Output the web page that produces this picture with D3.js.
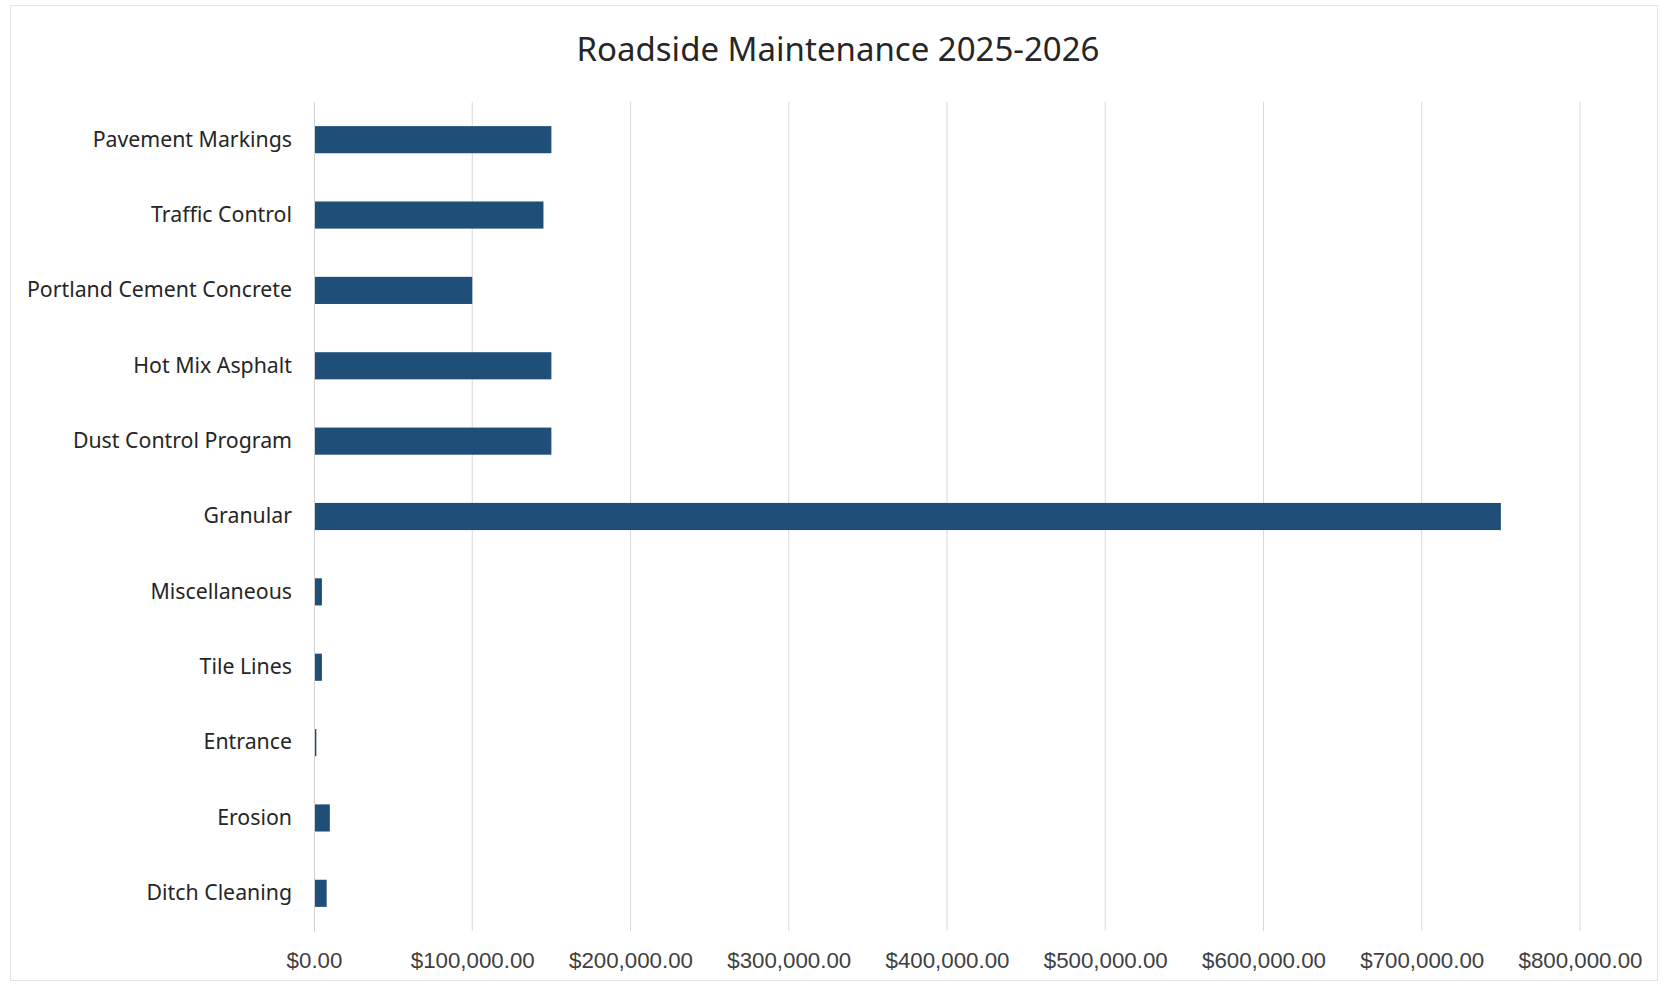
<!DOCTYPE html>
<html><head><meta charset="utf-8">
<script src="https://cdn.jsdelivr.net/npm/d3@7"></script>
<style>body{margin:0;background:#fff}svg{display:block}</style>
</head><body>
<svg id="chart" width="1669" height="987"></svg>
<script>
const title = "Roadside Maintenance 2025-2026";
const categories = ["Pavement Markings","Traffic Control","Portland Cement Concrete","Hot Mix Asphalt","Dust Control Program","Granular","Miscellaneous","Tile Lines","Entrance","Erosion","Ditch Cleaning"];
const values = [150000,145000,100000,150000,150000,750000,5000,5000,1500,10000,8000];
const tickValues = [0,100000,200000,300000,400000,500000,600000,700000,800000];

(function(){
const svg = d3.select("#chart");
const W = 1669, H = 987;
const pLeft = 314, pRight = 1580, pTop = 102, pBottom = 931;

svg.append("rect").attr("x",10.5).attr("y",5.5).attr("width",W-22).attr("height",H-12)
  .attr("fill","#fff").attr("stroke","#e4e4e4");

const x = d3.scaleLinear().domain([0,800000]).range([pLeft,pRight]);
const y = d3.scaleBand().domain(categories).range([pTop,pBottom]).paddingInner(0.64).paddingOuter(0.32);

svg.append("g").selectAll("line").data(tickValues.slice(1)).join("line")
  .attr("x1",d=>x(d)).attr("x2",d=>x(d)).attr("y1",pTop).attr("y2",pBottom)
  .attr("stroke","#d9d9d9").attr("stroke-width",1);

const fmt = d => "$" + d3.format(",.2f")(d);
const xAxis = d3.axisBottom(x).tickValues(tickValues).tickFormat(fmt).tickSize(0).tickPadding(0);
const gx = svg.append("g").attr("transform",`translate(0,${pBottom})`).call(xAxis);
gx.select(".domain").remove();
gx.selectAll("text").attr("dy",0).attr("y",37).attr("font-family","'Liberation Sans', Arial, sans-serif")
  .attr("font-size",22.3).attr("fill","#404040");

svg.append("g").selectAll("rect").data(categories).join("rect")
  .attr("x",x(0)).attr("y",d=>y(d)).attr("height",y.bandwidth())
  .attr("width",(d,i)=>x(values[i])-x(0)).attr("fill","#1f4e79");

const yAxis = d3.axisLeft(y).tickSize(0).tickPadding(22);
const gy = svg.append("g").attr("transform",`translate(${pLeft},0)`).call(yAxis);
gy.select(".domain").attr("stroke","#d0d0d0");
gy.selectAll("text").attr("font-family","'Noto Sans', sans-serif").attr("font-size",21.3).attr("fill","#262626");

svg.append("text").attr("x",838).attr("y",61).attr("text-anchor","middle")
  .attr("font-family","'Noto Sans', sans-serif").attr("font-size",33).attr("fill","#262626").text(title);
})();
</script>
</body></html>
